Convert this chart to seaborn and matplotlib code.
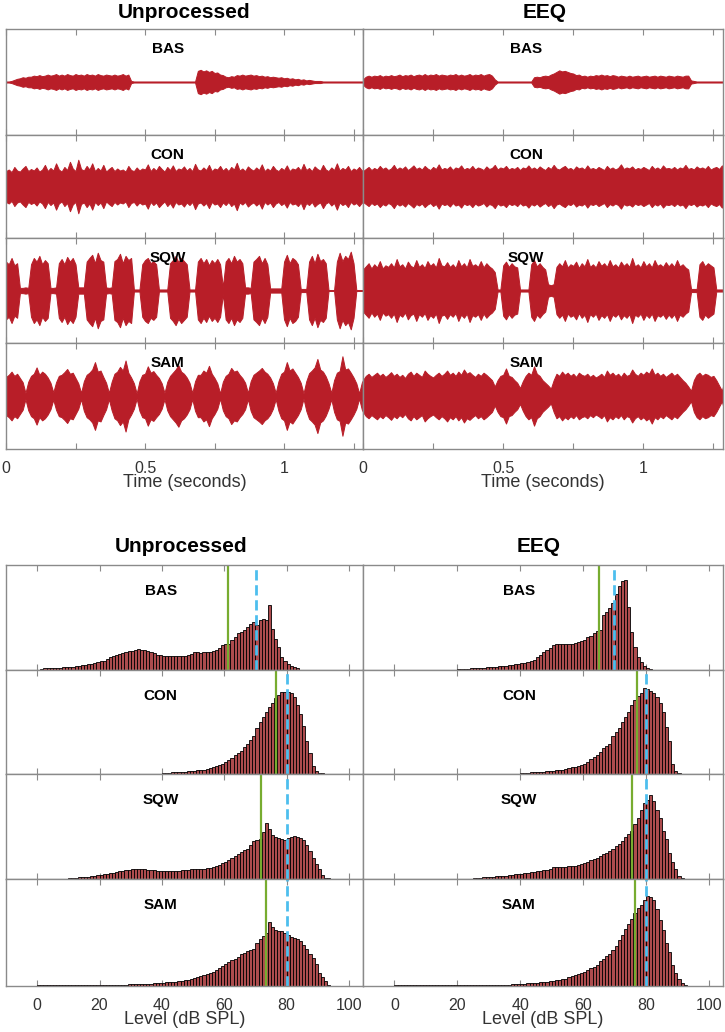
import numpy as np
import pandas as pd
import matplotlib.pyplot as plt
import seaborn as sns

sns.set_theme(style='white')
plt.rcParams['font.family'] = ['Liberation Sans', 'DejaVu Sans']

W, H = 725, 1032
conditions = ['BAS', 'CON', 'SQW', 'SAM']
columns = ['Unprocessed', 'EEQ']

# --- waveform envelopes (fraction of half panel height), one value every 10 ms, 0 .. 1.29 s ---
wave_time = np.round(np.arange(130) * 0.01, 2)

bas_unproc_env = [
    0.01, 0.01, 0.02, 0.04, 0.06, 0.07, 0.09, 0.08, 0.10, 0.10,
    0.12, 0.11, 0.13, 0.11, 0.12, 0.14, 0.12, 0.13, 0.15, 0.12,
    0.14, 0.12, 0.15, 0.13, 0.12, 0.15, 0.13, 0.14, 0.12, 0.15,
    0.13, 0.14, 0.12, 0.15, 0.13, 0.12, 0.14, 0.13, 0.12, 0.14,
    0.12, 0.13, 0.15, 0.12, 0.14, 0.02, 0.01, 0.01, 0.01, 0.01,
    0.01, 0.01, 0.01, 0.01, 0.01, 0.01, 0.01, 0.01, 0.01, 0.01,
    0.01, 0.01, 0.01, 0.01, 0.01, 0.01, 0.01, 0.01, 0.01, 0.21,
    0.23, 0.20, 0.22, 0.19, 0.21, 0.17, 0.18, 0.14, 0.13, 0.10,
    0.09, 0.11, 0.10, 0.13, 0.12, 0.14, 0.12, 0.13, 0.14, 0.12,
    0.13, 0.11, 0.12, 0.10, 0.11, 0.09, 0.10, 0.09, 0.08, 0.09,
    0.07, 0.08, 0.06, 0.07, 0.05, 0.06, 0.04, 0.05, 0.03, 0.04,
    0.03, 0.02, 0.02, 0.02, 0.01, 0.01, 0.01, 0.01, 0.01, 0.01,
    0.01, 0.01, 0.01, 0.01, 0.01, 0.01, 0.01, 0.01, 0.01, 0.01,
]
bas_eeq_env = [
    0.05, 0.10, 0.12, 0.10, 0.12, 0.11, 0.13, 0.10, 0.12, 0.11,
    0.13, 0.11, 0.12, 0.14, 0.11, 0.13, 0.12, 0.14, 0.11, 0.13,
    0.14, 0.12, 0.15, 0.12, 0.14, 0.13, 0.15, 0.12, 0.14, 0.13,
    0.12, 0.14, 0.13, 0.15, 0.12, 0.14, 0.12, 0.13, 0.15, 0.12,
    0.14, 0.13, 0.15, 0.12, 0.14, 0.15, 0.12, 0.05, 0.01, 0.01,
    0.01, 0.01, 0.01, 0.01, 0.01, 0.01, 0.01, 0.01, 0.01, 0.01,
    0.01, 0.09, 0.10, 0.09, 0.11, 0.12, 0.11, 0.14, 0.16, 0.19,
    0.22, 0.20, 0.21, 0.19, 0.17, 0.16, 0.13, 0.14, 0.11, 0.12,
    0.10, 0.12, 0.11, 0.13, 0.12, 0.14, 0.12, 0.13, 0.11, 0.13,
    0.12, 0.10, 0.12, 0.11, 0.10, 0.12, 0.10, 0.11, 0.12, 0.10,
    0.11, 0.12, 0.10, 0.11, 0.12, 0.10, 0.12, 0.11, 0.10, 0.12,
    0.11, 0.10, 0.12, 0.11, 0.10, 0.12, 0.12, 0.03, 0.02, 0.01,
    0.01, 0.01, 0.01, 0.01, 0.01, 0.01, 0.01, 0.01, 0.01, 0.01,
]
con_unproc_env = [
    0.30, 0.33, 0.28, 0.38, 0.31, 0.29, 0.35, 0.40, 0.30, 0.34,
    0.31, 0.37, 0.29, 0.33, 0.42, 0.30, 0.36, 0.31, 0.45, 0.33,
    0.29, 0.38, 0.32, 0.48, 0.35, 0.30, 0.52, 0.34, 0.31, 0.40,
    0.33, 0.45, 0.30, 0.36, 0.31, 0.42, 0.29, 0.34, 0.38, 0.30,
    0.35, 0.31, 0.33, 0.29, 0.40, 0.32, 0.30, 0.37, 0.31, 0.35,
    0.33, 0.43, 0.30, 0.36, 0.31, 0.40, 0.34, 0.29, 0.38, 0.32,
    0.41, 0.30, 0.35, 0.33, 0.39, 0.31, 0.36, 0.30, 0.44, 0.33,
    0.31, 0.37, 0.32, 0.42, 0.30, 0.35, 0.33, 0.40, 0.31, 0.36,
    0.30, 0.38, 0.33, 0.46, 0.31, 0.35, 0.30, 0.39, 0.34, 0.31,
    0.37, 0.32, 0.43, 0.30, 0.35, 0.31, 0.40, 0.33, 0.30, 0.36,
    0.32, 0.41, 0.30, 0.35, 0.33, 0.38, 0.31, 0.44, 0.32, 0.36,
    0.30, 0.39, 0.34, 0.31, 0.42, 0.33, 0.30, 0.37, 0.32, 0.45,
    0.31, 0.36, 0.33, 0.40, 0.30, 0.35, 0.32, 0.38, 0.31, 0.34,
]
con_eeq_env = [
    0.30, 0.34, 0.38, 0.32, 0.36, 0.33, 0.40, 0.34, 0.37, 0.32,
    0.35, 0.42, 0.33, 0.37, 0.34, 0.39, 0.32, 0.36, 0.41, 0.34,
    0.37, 0.33, 0.40, 0.35, 0.32, 0.38, 0.34, 0.43, 0.33, 0.36,
    0.34, 0.39, 0.32, 0.37, 0.35, 0.41, 0.33, 0.36, 0.34, 0.40,
    0.33, 0.37, 0.35, 0.32, 0.39, 0.34, 0.36, 0.42, 0.33, 0.37,
    0.35, 0.40, 0.33, 0.36, 0.34, 0.38, 0.32, 0.37, 0.35, 0.41,
    0.34, 0.37, 0.33, 0.39, 0.35, 0.32, 0.38, 0.34, 0.42, 0.35,
    0.33, 0.37, 0.40, 0.34, 0.36, 0.32, 0.39, 0.35, 0.37, 0.33,
    0.41, 0.34, 0.36, 0.33, 0.38, 0.35, 0.32, 0.40, 0.34, 0.37,
    0.33, 0.36, 0.43, 0.34, 0.37, 0.35, 0.39, 0.33, 0.36, 0.34,
    0.38, 0.35, 0.32, 0.40, 0.34, 0.37, 0.33, 0.41, 0.35, 0.36,
    0.34, 0.38, 0.33, 0.37, 0.35, 0.42, 0.34, 0.36, 0.33, 0.39,
    0.35, 0.37, 0.34, 0.40, 0.33, 0.36, 0.38, 0.34, 0.41, 0.36,
]
sqw_unproc_env = [
    0.55, 0.50, 0.62, 0.48, 0.52, 0.05, 0.05, 0.06, 0.05, 0.50,
    0.62, 0.55, 0.66, 0.50, 0.58, 0.52, 0.05, 0.05, 0.06, 0.52,
    0.60, 0.50, 0.64, 0.55, 0.62, 0.50, 0.06, 0.06, 0.06, 0.55,
    0.62, 0.68, 0.52, 0.72, 0.58, 0.55, 0.06, 0.05, 0.06, 0.56,
    0.60, 0.70, 0.52, 0.66, 0.58, 0.62, 0.02, 0.02, 0.02, 0.50,
    0.58, 0.62, 0.52, 0.56, 0.50, 0.02, 0.02, 0.02, 0.02, 0.52,
    0.58, 0.66, 0.54, 0.62, 0.56, 0.50, 0.02, 0.02, 0.02, 0.55,
    0.62, 0.52, 0.60, 0.48, 0.58, 0.52, 0.60, 0.50, 0.07, 0.55,
    0.62, 0.52, 0.66, 0.55, 0.60, 0.52, 0.06, 0.06, 0.05, 0.55,
    0.60, 0.66, 0.52, 0.62, 0.50, 0.04, 0.04, 0.04, 0.04, 0.04,
    0.55, 0.68, 0.52, 0.62, 0.58, 0.50, 0.03, 0.03, 0.03, 0.55,
    0.66, 0.52, 0.70, 0.56, 0.60, 0.52, 0.01, 0.01, 0.01, 0.55,
    0.72, 0.56, 0.66, 0.60, 0.74, 0.52, 0.01, 0.01, 0.01, 0.01,
]
sqw_eeq_env = [
    0.40, 0.46, 0.52, 0.42, 0.50, 0.44, 0.56, 0.42, 0.48, 0.45,
    0.52, 0.44, 0.60, 0.46, 0.50, 0.42, 0.55, 0.47, 0.44, 0.58,
    0.45, 0.50, 0.43, 0.56, 0.47, 0.52, 0.44, 0.62, 0.48, 0.46,
    0.54, 0.45, 0.50, 0.43, 0.58, 0.46, 0.52, 0.44, 0.60, 0.47,
    0.50, 0.45, 0.56, 0.44, 0.52, 0.46, 0.42, 0.35, 0.02, 0.02,
    0.48, 0.55, 0.45, 0.52, 0.46, 0.44, 0.02, 0.02, 0.02, 0.02,
    0.50, 0.58, 0.46, 0.52, 0.45, 0.40, 0.12, 0.10, 0.12, 0.45,
    0.52, 0.46, 0.58, 0.44, 0.50, 0.47, 0.55, 0.43, 0.52, 0.46,
    0.60, 0.45, 0.50, 0.44, 0.56, 0.47, 0.52, 0.45, 0.58, 0.46,
    0.50, 0.44, 0.55, 0.47, 0.52, 0.45, 0.62, 0.46, 0.50, 0.44,
    0.56, 0.46, 0.52, 0.44, 0.58, 0.47, 0.50, 0.45, 0.54, 0.46,
    0.52, 0.45, 0.58, 0.46, 0.50, 0.44, 0.40, 0.03, 0.03, 0.03,
    0.50, 0.56, 0.46, 0.52, 0.48, 0.44, 0.02, 0.02, 0.02, 0.02,
]
sam_unproc_env = [
    0.36, 0.40, 0.46, 0.38, 0.42, 0.34, 0.26, 0.06, 0.27, 0.38,
    0.42, 0.54, 0.40, 0.46, 0.42, 0.35, 0.25, 0.07, 0.26, 0.38,
    0.40, 0.45, 0.51, 0.42, 0.44, 0.34, 0.24, 0.06, 0.28, 0.40,
    0.44, 0.50, 0.64, 0.46, 0.48, 0.36, 0.25, 0.06, 0.27, 0.42,
    0.46, 0.55, 0.48, 0.67, 0.44, 0.35, 0.24, 0.05, 0.28, 0.40,
    0.42, 0.56, 0.44, 0.47, 0.40, 0.34, 0.24, 0.06, 0.27, 0.38,
    0.44, 0.50, 0.58, 0.46, 0.42, 0.35, 0.25, 0.06, 0.28, 0.40,
    0.40, 0.48, 0.44, 0.57, 0.42, 0.34, 0.24, 0.05, 0.27, 0.38,
    0.42, 0.53, 0.46, 0.48, 0.40, 0.34, 0.25, 0.06, 0.28, 0.40,
    0.44, 0.48, 0.53, 0.46, 0.42, 0.35, 0.24, 0.06, 0.28, 0.42,
    0.46, 0.64, 0.48, 0.52, 0.44, 0.36, 0.25, 0.05, 0.28, 0.43,
    0.48, 0.54, 0.70, 0.50, 0.46, 0.37, 0.24, 0.06, 0.30, 0.44,
    0.47, 0.75, 0.50, 0.52, 0.44, 0.35, 0.24, 0.05, 0.26, 0.36,
]
sam_eeq_env = [
    0.30, 0.38, 0.42, 0.36, 0.40, 0.44, 0.38, 0.42, 0.36, 0.40,
    0.45, 0.38, 0.42, 0.36, 0.40, 0.34, 0.42, 0.46, 0.38, 0.44,
    0.40, 0.36, 0.48, 0.42, 0.38, 0.35, 0.40, 0.44, 0.38, 0.42,
    0.48, 0.40, 0.44, 0.38, 0.46, 0.40, 0.50, 0.42, 0.45, 0.40,
    0.36, 0.42, 0.38, 0.44, 0.40, 0.35, 0.30, 0.18, 0.30, 0.38,
    0.40, 0.52, 0.38, 0.36, 0.30, 0.25, 0.15, 0.28, 0.38, 0.44,
    0.40, 0.56, 0.42, 0.38, 0.30, 0.25, 0.20, 0.14, 0.30, 0.42,
    0.38, 0.46, 0.40, 0.44, 0.38, 0.42, 0.36, 0.44, 0.40, 0.38,
    0.42, 0.36, 0.40, 0.35, 0.38, 0.42, 0.36, 0.48, 0.40, 0.44,
    0.38, 0.42, 0.36, 0.44, 0.38, 0.40, 0.50, 0.42, 0.38, 0.44,
    0.40, 0.46, 0.42, 0.52, 0.40, 0.44, 0.38, 0.42, 0.36, 0.40,
    0.44, 0.38, 0.42, 0.36, 0.30, 0.25, 0.18, 0.10, 0.30, 0.40,
    0.44, 0.38, 0.42, 0.40, 0.36, 0.38, 0.30, 0.20, 0.10, 0.30,
]

# --- level histograms: percent of panel height, 1 dB bins starting at 0 dB SPL ---
level_centers = np.arange(96) + 0.5

bas_unproc_hist = [
    0, 1, 1.5, 1.5, 2, 2, 2, 2, 2.5, 2.5,
    2.5, 3, 3.5, 4, 4.5, 5, 6, 6, 7, 8,
    8.5, 9, 10.5, 12, 13, 14, 15, 16, 17, 18,
    18.5, 19, 20, 19.5, 19, 18, 17, 16, 14.5, 14,
    13.5, 13, 13, 13, 13.5, 13, 13, 13.5, 14, 15,
    17, 17, 16.5, 17, 17, 17.5, 18, 19, 21, 24,
    25, 24.5, 29, 31, 35, 36, 38, 41, 44, 46,
    43, 48, 49, 48, 62, 39, 30, 22, 12, 9,
    6, 4, 3, 1.5, 0, 0, 0, 0, 0, 0,
    0, 0, 0, 0, 0, 0,
]
bas_eeq_hist = [
    0, 0, 0, 0, 0, 0, 0, 0, 0, 0,
    0, 0, 0, 0, 0, 0, 0, 0, 0, 0,
    0.5, 0.5, 1, 1, 1.5, 1.5, 1.5, 2, 2, 2.5,
    2.5, 3, 3, 3.5, 4, 4, 4.5, 5, 5.5, 6,
    6.5, 7, 8, 9, 10, 12, 14, 17, 19, 21,
    24, 25, 25, 25, 25, 25, 25, 26, 27, 28,
    29, 31, 32, 35, 37, 38, 52, 55, 59, 64,
    72, 80, 85, 86, 60, 36, 22, 12, 8, 4,
    2, 1, 0, 0, 0, 0, 0, 0, 0, 0,
    0, 0, 0, 0, 0, 0,
]
con_unproc_hist = [
    0, 0, 0, 0, 0, 0, 0, 0, 0, 0,
    0, 0, 0, 0, 0, 0, 0, 0, 0, 0,
    0, 0, 0, 0, 0, 0, 0, 0, 0, 0,
    0, 0, 0, 0, 0, 0, 0, 0, 0, 0,
    1, 1, 1, 1.5, 1.5, 2, 2, 2, 2.5, 3,
    3, 3.5, 3.5, 4, 5, 6, 7, 8, 9, 10,
    12, 13, 15, 18, 20, 22, 26, 29, 33, 37,
    44, 50, 55, 60, 64, 68, 73, 76, 79, 79,
    79, 78, 74, 66, 58, 46, 32, 20, 8, 3,
    1, 0.5, 0, 0, 0, 0,
]
con_eeq_hist = [
    0, 0, 0, 0, 0, 0, 0, 0, 0, 0,
    0, 0, 0, 0, 0, 0, 0, 0, 0, 0,
    0, 0, 0, 0, 0, 0, 0, 0, 0, 0,
    0, 0, 0, 0, 0, 0, 0, 0, 0, 0,
    1, 1, 1, 1.5, 1.5, 2, 2, 2, 2.5, 3,
    3, 3.5, 4, 4, 5, 6, 6.5, 7, 8, 9,
    10, 12, 14, 16, 18, 21, 25, 27, 29, 37,
    40, 44, 50, 55, 60, 66, 71, 75, 78, 83,
    82, 80, 78, 74, 68, 60, 45, 32, 10, 3,
    1, 0, 0, 0, 0, 0,
]
sqw_unproc_hist = [
    0, 0, 0, 0, 0, 0, 0, 0, 0, 0,
    1, 1, 1, 1.5, 1.5, 2, 2, 2.5, 3, 3.5,
    4, 4.5, 5, 5.5, 6, 7, 7.5, 8, 8.5, 9,
    9.5, 10, 10, 10, 9.5, 9, 9, 8.5, 8, 8,
    8, 8, 8, 8, 8, 8, 8.5, 9, 9, 9.5,
    10, 10, 10, 10, 10.5, 10.5, 11, 12, 13, 15,
    16, 18, 20, 22, 24, 26, 28, 29, 32, 36,
    37, 38, 45, 53, 48, 42, 40, 39, 38, 37,
    39, 40, 41, 40, 39, 37, 32, 27, 20, 14,
    10, 4, 1, 0.5, 0, 0,
]
sqw_eeq_hist = [
    0, 0, 0, 0, 0, 0, 0, 0, 0, 0,
    0, 0, 0, 0, 0, 0, 0, 0, 0, 0,
    0, 0, 0, 0, 0, 1, 1, 1.2, 1.5, 1.5,
    2, 2, 2.5, 2.5, 3, 3, 3.5, 4, 4.5, 5,
    5, 5.5, 6, 6.5, 7, 7.5, 8, 8.5, 9, 10,
    11, 11, 11, 11, 11.5, 12, 12, 12, 13, 14,
    15, 16, 18, 19, 20, 22, 24, 25, 27, 29,
    31, 33, 36, 40, 43, 46, 52, 58, 66, 72,
    75, 80, 74, 66, 58, 46, 38, 25, 16, 10,
    3, 1, 0, 0, 0, 0,
]
sam_unproc_hist = [
    0.5, 0.5, 0.5, 0.5, 0.5, 0.5, 0.5, 0.5, 0.5, 0.5,
    0.5, 0.5, 0.5, 0.5, 0.5, 0.5, 0.5, 0.5, 0.5, 0.5,
    0.5, 0.5, 0.5, 0.5, 0.5, 1, 1, 1, 1.2, 1.5,
    1.5, 1.5, 1.5, 2, 2, 2, 2, 2.5, 2.5, 3,
    3, 3.5, 3.5, 4, 4, 4.5, 5, 5.5, 6, 7,
    7.5, 8, 9, 10, 11, 12, 13, 15, 17, 19,
    21, 22, 24, 25, 27, 30, 31, 33, 34, 35,
    40, 44, 47, 50, 60, 55, 52, 51, 51, 50,
    48, 46, 45, 44, 42, 38, 35, 30, 26, 21,
    12, 8, 5, 1, 0, 0,
]
sam_eeq_hist = [
    0.5, 0.5, 0.5, 0.5, 0.5, 0.5, 0.5, 0.5, 0.5, 0.5,
    0.5, 0.5, 0.5, 0.5, 0.5, 0.5, 0.5, 0.5, 0.5, 0.5,
    0.5, 0.5, 0.5, 0.5, 0.5, 0.5, 0.5, 0.5, 0.5, 0.5,
    0.5, 0.5, 0.5, 0.5, 0.5, 1, 1, 1.5, 1.5, 2,
    2, 2, 2.5, 2.5, 3, 3, 3.5, 3.5, 4, 4.5,
    5, 5.5, 6, 6.5, 7, 8, 9, 10, 11, 12,
    13, 15, 17, 18, 20, 23, 25, 28, 30, 34,
    37, 43, 48, 53, 58, 63, 68, 73, 76, 80,
    84, 83, 80, 72, 62, 52, 40, 32, 20, 12,
    7, 3, 1, 0, 0, 0,
]

# green solid and blue dashed reference levels, dB SPL
green_unproc = [61.2, 76.7, 71.7, 73.5]
blue_unproc = [70.1, 80.1, 80.1, 80.1]
green_eeq = [65.1, 77.0, 75.6, 76.5]
blue_eeq = [69.7, 80.0, 80.1, 80.1]

waves = {
    'Unprocessed': [bas_unproc_env, con_unproc_env, sqw_unproc_env, sam_unproc_env],
    'EEQ': [bas_eeq_env, con_eeq_env, sqw_eeq_env, sam_eeq_env],
}
hists = {
    'Unprocessed': [bas_unproc_hist, con_unproc_hist, sqw_unproc_hist, sam_unproc_hist],
    'EEQ': [bas_eeq_hist, con_eeq_hist, sqw_eeq_hist, sam_eeq_hist],
}
greens = {'Unprocessed': green_unproc, 'EEQ': green_eeq}
blues = {'Unprocessed': blue_unproc, 'EEQ': blue_eeq}

wave_color = '#B81E28'
bar_color = '#AD4C4E'
green = '#77AC30'
blue = '#4DBEEE'
frame = '#8a8a8a'
txt = '#333333'

col_px = [(6, 363), (363, 723)]
wave_rows_px = [29, 135, 238, 343, 449]
hist_rows_px = [565, 670, 774, 879, 986]

fig = plt.figure(figsize=(W / 100, H / 100), dpi=100)


def px_axes(x0, x1, y0, y1):
    return fig.add_axes([x0 / W, 1 - y1 / H, (x1 - x0) / W, (y1 - y0) / H])


def style_axes(ax):
    for s in ax.spines.values():
        s.set_color(frame)
        s.set_linewidth(1.0)
    ax.set_yticks([])
    ax.tick_params(axis='x', direction='in', top=True, bottom=True, length=4,
                   width=0.8, color=frame, labelsize=11.5, labelcolor=txt, pad=8.5)
    ax.set_ylabel('')


for c, col in enumerate(columns):
    x0, x1 = col_px[c]
    # waveforms
    for r, cond in enumerate(conditions):
        ax = px_axes(x0, x1, wave_rows_px[r], wave_rows_px[r + 1])
        env = np.array(waves[col][r])
        ax.fill_between(wave_time, -env, env, color=wave_color, lw=0.7)
        ax.set_xlim(0, 1.284)
        ax.set_ylim(-1, 1)
        style_axes(ax)
        ax.set_xticks([0, 0.25, 0.5, 0.75, 1, 1.25])
        if r == 3:
            ax.set_xticklabels(['0', '', '0.5', '', '1', ''])
            ax.set_xlabel('Time (seconds)', fontsize=13, color=txt, labelpad=-1)
        else:
            ax.set_xticklabels([])
        ax.text(0.453, 1 - 20 / 104, cond, transform=ax.transAxes, ha='center',
                va='center', fontsize=11, fontweight='bold', color='black')

    # level histograms
    for r, cond in enumerate(conditions):
        ax = px_axes(x0, x1, hist_rows_px[r], hist_rows_px[r + 1])
        df = pd.DataFrame({'level': level_centers, 'count': hists[col][r]})
        sns.histplot(data=df, x='level', weights='count', binwidth=1, binrange=(0, 96),
                     ax=ax, color=bar_color, edgecolor='black', linewidth=0.6, alpha=1)
        ax.axvline(greens[col][r], color=green, lw=1.6)
        ax.axvline(blues[col][r], color=blue, lw=2.0, ls=(0, (3.7, 1.7)))
        ax.set_xlim(-10, 104.5)
        ax.set_ylim(0, 100)
        style_axes(ax)
        ax.set_xticks([0, 20, 40, 60, 80, 100])
        if r == 3:
            ax.set_xlabel('Level (dB SPL)', fontsize=13, color=txt, labelpad=-1)
        else:
            ax.set_xticklabels([])
            ax.set_xlabel('')
        ax.text(0.433, 1 - 26 / 105, cond, transform=ax.transAxes, ha='center',
                va='center', fontsize=11, fontweight='bold', color='black')

# column titles
for cx, label in [(184, 'Unprocessed'), (545, 'EEQ')]:
    fig.text(cx / W, 1 - 12 / H, label, ha='center', va='center',
             fontsize=15, fontweight='bold', color='black')
for cx, label in [(181, 'Unprocessed'), (539, 'EEQ')]:
    fig.text(cx / W, 1 - 546 / H, label, ha='center', va='center',
             fontsize=15, fontweight='bold', color='black')

fig.savefig('out.png', dpi=100)
